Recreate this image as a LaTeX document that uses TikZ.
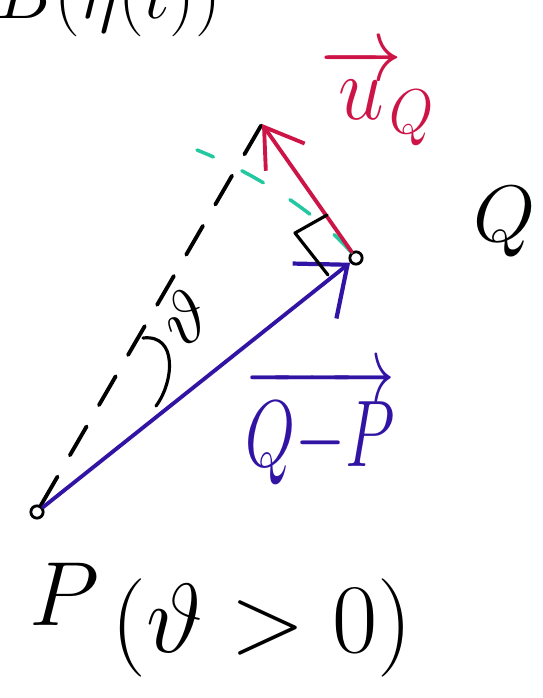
\documentclass[tikz,border=0pt]{standalone}
\usepackage{amsmath,amssymb}
\usetikzlibrary{arrows.meta}
\usepackage{xcolor}
\definecolor{vecred}{RGB}{205, 20, 70}
\definecolor{vecblue}{RGB}{50, 20, 165}
\definecolor{perpgreen}{RGB}{35, 200, 160}

\begin{document}
\begin{tikzpicture}[x=0.02cm, y=-0.02cm, line cap=round, line join=round,
    dot/.style={circle, draw, line width=1.6pt, inner sep=0pt, minimum size=7pt},
    pen/.style={line width=2.2pt},
    handtext/.style={font=\fontsize{20}{20}\selectfont, inner sep=0pt, scale=#1/20}]
    \useasboundingbox (0,0) rectangle (543,698);

    % Heading (cut off at the top)
    \node[handtext=40, anchor=base west] (heading) at (-4,18) {$B(\eta(t))$};

    % Points
    \node[dot] (P) at (37,512) {};
    \node[dot] (Q) at (356,258) {};
    \coordinate (U) at (262,124);
    \coordinate (G) at (197,150);

    % Dashed line to the tip
    \draw[pen, dash pattern=on 19pt off 14pt] (P) -- (U);

    % Perpendicular (green)
    \draw[perpgreen, line width=2pt, dash pattern=on 14pt off 18pt]
        (Q) .. controls (322,218) and (262,176) .. (G);

    % Direction vector
    \draw[vecred, pen, -{Straight Barb[length=21pt, width=27pt, line width=2.2pt]}] (Q) -- (U);
    \node[vecred, handtext=50, xscale=0.9] (uQ) at (378,96) {$\overrightarrow{u}\!_{Q}$};

    % Difference vector
    \draw[vecblue, pen, -{Straight Barb[length=24pt, width=40pt, line width=2.4pt]}] (P) -- (Q);
    \node[vecblue, handtext=52, xscale=0.68] (QP) at (320,426) {$\overrightarrow{Q{-}P}$};

    % Right angle
    \draw[line width=1.8pt] (327,215) -- (295,233) -- (328,275);

    % Angle
    \draw[line width=1.8pt] (143,338) .. controls (178,334) and (174,382) .. (156,406);
    \node[handtext=40, rotate=35] (theta) at (184,318) {$\vartheta$};

    % Labels
    \node[handtext=44] (Qlabel) at (505,222) {$Q$};
    \node[handtext=50] (Plabel) at (64,594) {$P$};
    \node[handtext=54] (cond) at (262,628) {$(\vartheta>0)$};
\end{tikzpicture}
\end{document}
